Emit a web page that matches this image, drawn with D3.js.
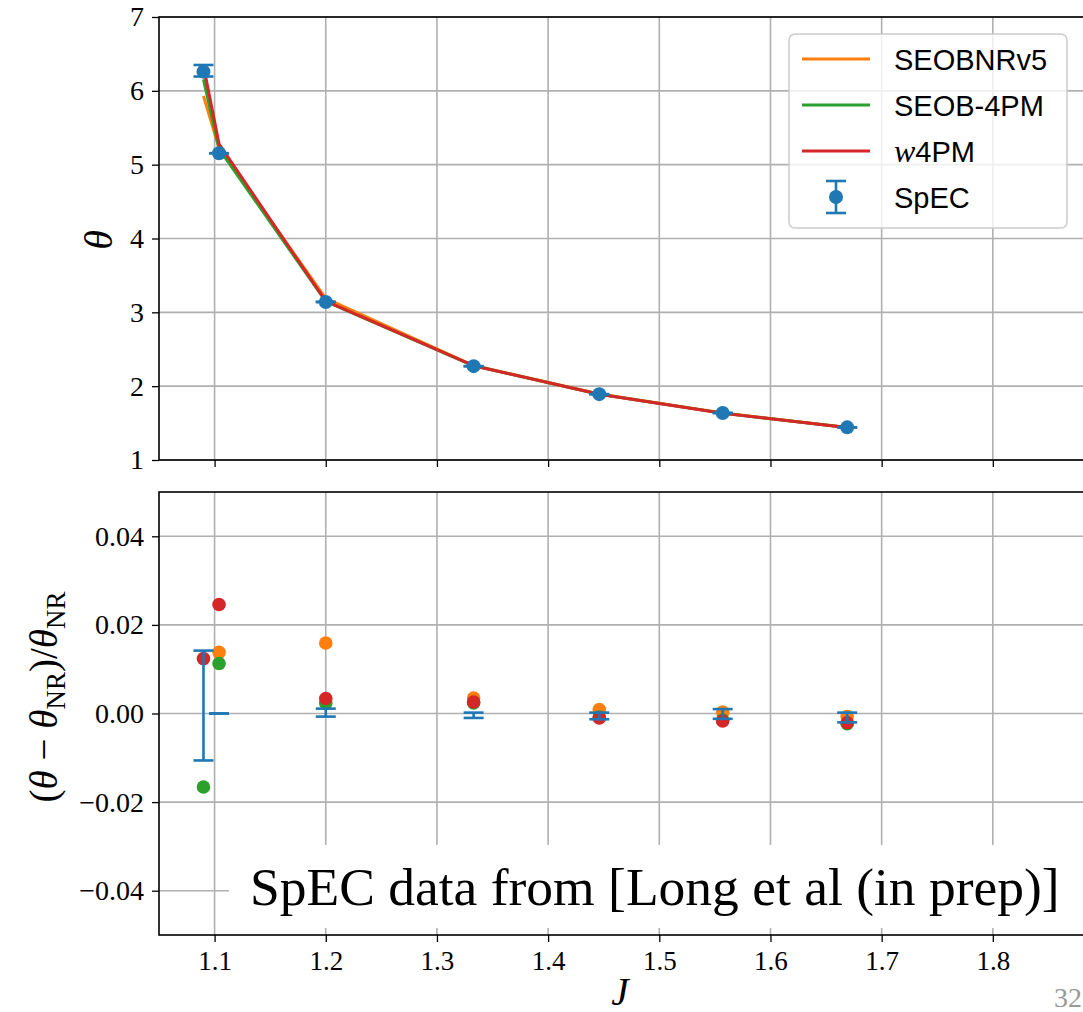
<!DOCTYPE html>
<html>
<head>
<meta charset="utf-8">
<script src="https://cdn.jsdelivr.net/npm/d3@7"></script>
<style>
  html, body { margin: 0; padding: 0; background: #fff; }
  svg { display: block; }
</style>
</head>
<body>
<div id="app"></div>
<script>
// values
const J = [1.090, 1.104, 1.200, 1.333, 1.446, 1.557, 1.669];

const thetaNR = [6.26, 5.155, 3.14, 2.271, 1.892, 1.637, 1.442];
const thetaErrHi = [0.09, 0.0, 0.004, 0.001, 0.001, 0.002, 0.001];
const thetaErrLo = [0.066, 0.0, 0.003, 0.002, 0.002, 0.002, 0.003];

const thetaSEOBNRv5 = [5.93, 5.226, 3.19, 2.279, 1.894, 1.638, 1.441];
const thetaSEOB4PM  = [6.156, 5.213, 3.147, 2.276, 1.890, 1.635, 1.439];
const thetaW4PM     = [6.338, 5.282, 3.151, 2.277, 1.890, 1.634, 1.439];

const relSEOBNRv5 = [-0.053, 0.0138, 0.0159, 0.0035, 0.0009, 0.0003, -0.0007];
const relSEOB4PM  = [-0.0166, 0.0113, 0.0023, 0.0024, -0.0008, -0.0015, -0.0023];
const relW4PM     = [0.0124, 0.0246, 0.0034, 0.0026, -0.0010, -0.0017, -0.0021];
const relErrHi = [0.0142, 0.0, 0.0011, 0.0002, 0.0002, 0.0010, 0.0002];
const relErrLo = [0.0106, 0.0, 0.0007, 0.0010, 0.0013, 0.0012, 0.0020];

const thetaTicks = [1, 2, 3, 4, 5, 6, 7];
const relTicks = [-0.04, -0.02, 0.00, 0.02, 0.04];
const jTicks = [1.1, 1.2, 1.3, 1.4, 1.5, 1.6, 1.7, 1.8];

const legendLabels = ["SEOBNRv5", "SEOB-4PM", "w4PM", "SpEC"];
const colors = { v5: "#ff7f0e", pm4: "#2ca02c", w4: "#d62728", nr: "#1f77b4" };

const serif = "'Liberation Serif', 'DejaVu Serif', serif";
const sans = "'Liberation Sans', 'DejaVu Sans', sans-serif";

const W = 1083, H = 1012;
const left = 159, right = 1104;

const svg = d3.select("#app").append("svg")
  .attr("width", W).attr("height", H)
  .style("background", "#fff");

const x = d3.scaleLinear().domain([1.05, 1.9]).range([left, right]);
const yTop = d3.scaleLinear().domain([1, 7]).range([460, 17]);
const yBot = d3.scaleLinear().domain([-0.05, 0.05]).range([935, 492]);

const defs = svg.append("defs");

function panel(name, y, ticks, fmt, showXLabels) {
  const [y0, y1] = y.range();
  defs.append("clipPath").attr("id", "clip-" + name)
    .append("rect").attr("x", left).attr("y", y1).attr("width", right - left).attr("height", y0 - y1);

  const g = svg.append("g");
  // grid
  g.selectAll(".vg").data(jTicks).join("line")
    .attr("x1", d => x(d)).attr("x2", d => x(d))
    .attr("y1", y1).attr("y2", y0)
    .attr("stroke", "#b0b0b0").attr("stroke-width", 1.6);
  g.selectAll(".hg").data(ticks).join("line")
    .attr("x1", left).attr("x2", right)
    .attr("y1", d => y(d)).attr("y2", d => y(d))
    .attr("stroke", "#b0b0b0").attr("stroke-width", 1.6);

  const plot = svg.append("g").attr("clip-path", `url(#clip-${name})`);

  // axes
  const ax = svg.append("g").attr("transform", `translate(${left},0)`)
    .call(d3.axisLeft(y).tickValues(ticks).tickFormat(fmt).tickSize(7).tickPadding(8));
  ax.select(".domain").remove();
  ax.selectAll(".tick line").attr("stroke", "#000").attr("stroke-width", 1.3);
  ax.selectAll(".tick text").attr("font-family", serif).attr("font-size", 28).attr("fill", "#000");

  const bx = svg.append("g").attr("transform", `translate(0,${y0})`)
    .call(d3.axisBottom(x).tickValues(jTicks).tickFormat(showXLabels ? d3.format(".1f") : "").tickSize(7).tickPadding(9));
  bx.select(".domain").remove();
  bx.selectAll(".tick line").attr("stroke", "#000").attr("stroke-width", 1.3);
  bx.selectAll(".tick text").attr("font-family", serif).attr("font-size", 27).attr("fill", "#000");

  return { plot, y0, y1 };
}

function spines(p) {
  svg.append("rect")
    .attr("x", left).attr("y", p.y1).attr("width", right - left).attr("height", p.y0 - p.y1)
    .attr("fill", "none").attr("stroke", "#000").attr("stroke-width", 1.6);
}

function errorbars(g, y, lo, hi) {
  const eb = g.append("g").attr("stroke", colors.nr).attr("stroke-width", 2.6);
  eb.selectAll(".v").data(J).join("line")
    .attr("x1", d => x(d)).attr("x2", d => x(d))
    .attr("y1", (d, i) => y(lo[i])).attr("y2", (d, i) => y(hi[i]));
  eb.selectAll(".ct").data(J).join("line")
    .attr("x1", d => x(d) - 10).attr("x2", d => x(d) + 10)
    .attr("y1", (d, i) => y(hi[i])).attr("y2", (d, i) => y(hi[i]));
  eb.selectAll(".cb").data(J).join("line")
    .attr("x1", d => x(d) - 10).attr("x2", d => x(d) + 10)
    .attr("y1", (d, i) => y(lo[i])).attr("y2", (d, i) => y(lo[i]));
}

// ---- top panel
const topPanel = panel("top", yTop, thetaTicks, d3.format("d"), false);
const line = vals => d3.line().x((d, i) => x(J[i])).y(d => yTop(d))(vals);
[[thetaSEOBNRv5, colors.v5], [thetaSEOB4PM, colors.pm4], [thetaW4PM, colors.w4]].forEach(([vals, c]) => {
  topPanel.plot.append("path").attr("d", line(vals))
    .attr("fill", "none").attr("stroke", c).attr("stroke-width", 3).attr("stroke-linejoin", "round");
});
errorbars(topPanel.plot, yTop,
  thetaNR.map((v, i) => v - thetaErrLo[i]),
  thetaNR.map((v, i) => v + thetaErrHi[i]));
topPanel.plot.selectAll(".nr").data(thetaNR).join("circle")
  .attr("cx", (d, i) => x(J[i])).attr("cy", d => yTop(d)).attr("r", 7)
  .attr("fill", colors.nr);
spines(topPanel);

// ---- bottom panel
const botPanel = panel("bot", yBot, relTicks, d3.format(".2f"), true);
[[relSEOBNRv5, colors.v5], [relSEOB4PM, colors.pm4], [relW4PM, colors.w4]].forEach(([vals, c]) => {
  botPanel.plot.append("g").selectAll("circle").data(vals).join("circle")
    .attr("cx", (d, i) => x(J[i])).attr("cy", d => yBot(d)).attr("r", 6.8)
    .attr("fill", c);
});
errorbars(botPanel.plot, yBot, relErrLo.map(v => -v), relErrHi);

// annotation box
svg.append("rect").attr("x", 229).attr("y", 845).attr("width", 880).attr("height", 83).attr("fill", "#fff");
svg.append("text").attr("x", 250).attr("y", 905)
  .attr("font-family", serif).attr("font-size", 53.5).attr("fill", "#000")
  .text("SpEC data from [Long et al (in prep)]");
spines(botPanel);

// ---- axis labels
svg.append("text")
  .attr("transform", "translate(112,240) rotate(-90)")
  .attr("text-anchor", "middle")
  .attr("font-family", serif).attr("font-style", "italic").attr("font-size", 40)
  .text("θ");

const yl = svg.append("text")
  .attr("transform", "translate(57,697) rotate(-90)")
  .attr("text-anchor", "middle")
  .attr("font-family", serif).attr("font-size", 39);
yl.append("tspan").text("(");
yl.append("tspan").attr("font-style", "italic").text("θ");
yl.append("tspan").text(" − ");
yl.append("tspan").attr("font-style", "italic").text("θ");
yl.append("tspan").attr("font-size", 27).attr("dy", 8).text("NR");
yl.append("tspan").attr("dy", -8).text(")/");
yl.append("tspan").attr("font-style", "italic").text("θ");
yl.append("tspan").attr("font-size", 27).attr("dy", 8).text("NR");

svg.append("text").attr("x", 620).attr("y", 1005)
  .attr("text-anchor", "middle")
  .attr("font-family", serif).attr("font-style", "italic").attr("font-size", 39)
  .text("J");

// page number at the lower right edge
svg.append("text").attr("x", 1054).attr("y", 1007)
  .attr("font-family", serif).attr("font-size", 28).attr("fill", "#999")
  .text("32");

// ---- legend
const lg = svg.append("g");
lg.append("rect").attr("x", 789).attr("y", 34).attr("width", 278).attr("height", 194).attr("rx", 6)
  .attr("fill", "#fff").attr("fill-opacity", 0.8).attr("stroke", "#cccccc").attr("stroke-width", 1.5);
const legendColors = [colors.v5, colors.pm4, colors.w4];
const rowY = d3.scalePoint().domain(legendLabels).range([59, 197]);
legendColors.forEach((c, i) => {
  lg.append("line").attr("x1", 802).attr("x2", 870)
    .attr("y1", rowY(legendLabels[i])).attr("y2", rowY(legendLabels[i]))
    .attr("stroke", c).attr("stroke-width", 3);
});
const sy = rowY("SpEC");
lg.append("line").attr("x1", 836).attr("x2", 836).attr("y1", sy - 16).attr("y2", sy + 16)
  .attr("stroke", colors.nr).attr("stroke-width", 2.6);
[sy - 16, sy + 16].forEach(yy => lg.append("line").attr("x1", 826).attr("x2", 846).attr("y1", yy).attr("y2", yy)
  .attr("stroke", colors.nr).attr("stroke-width", 2.6));
lg.append("circle").attr("cx", 836).attr("cy", sy).attr("r", 7).attr("fill", colors.nr);

legendLabels.forEach(lab => {
  const t = lg.append("text").attr("x", 894).attr("y", rowY(lab) + 11)
    .attr("font-family", sans).attr("font-size", 29).attr("fill", "#000");
  if (lab === "w4PM") {
    t.append("tspan").attr("font-family", serif).attr("font-style", "italic").attr("font-size", 32).text("w");
    t.append("tspan").text("4PM");
  } else {
    t.text(lab);
  }
});
</script>
</body>
</html>
